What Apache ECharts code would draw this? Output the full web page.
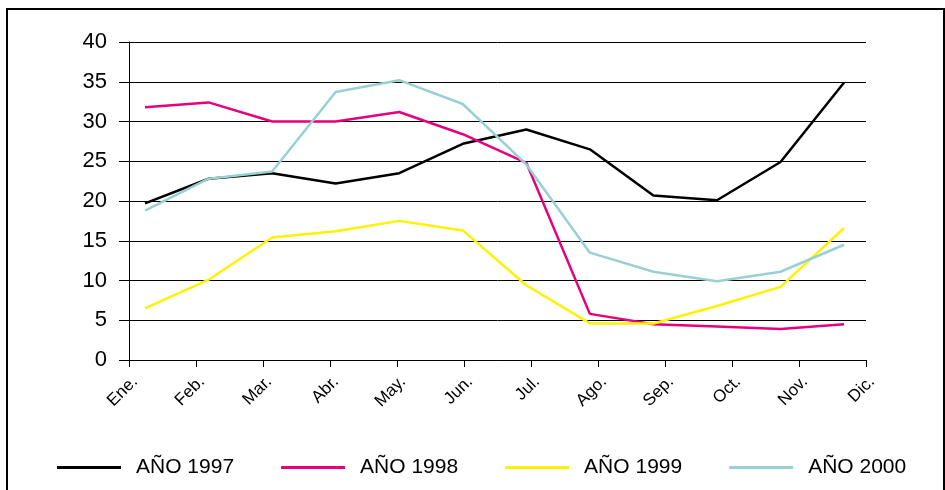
<!DOCTYPE html>
<html>
<head>
<meta charset="utf-8">
<script src="https://cdn.jsdelivr.net/npm/echarts@6/dist/echarts.min.js"></script>
<style>
  html, body { margin: 0; padding: 0; background: #fff; }
  #chart { width: 945px; height: 490px; }
  #frame {
    position: absolute; left: 6px; top: 8px; width: 935px; height: 500px;
    border: 2px solid #000; pointer-events: none;
  }
</style>
</head>
<body>
<div id="chart"></div>
<div id="frame"></div>
<script>
// meses
const months = ['Ene.', 'Feb.', 'Mar.', 'Abr.', 'May.', 'Jun.', 'Jul.', 'Ago.', 'Sep.', 'Oct.', 'Nov.', 'Dic.']
const names = ['AÑO 1997', 'AÑO 1998', 'AÑO 1999', 'AÑO 2000']
const y1997 = [19.7, 22.8, 23.5, 22.2, 23.5, 27.2, 29.0, 26.5, 20.7, 20.1, 24.9, 34.9]
const y1998 = [31.8, 32.4, 30.0, 30.0, 31.2, 28.4, 24.8, 5.8, 4.5, 4.2, 3.9, 4.5]
const y1999 = [6.5, 10.1, 15.4, 16.2, 17.5, 16.3, 9.4, 4.6, 4.6, 6.8, 9.2, 16.6]
const y2000 = [18.8, 22.8, 23.7, 33.7, 35.2, 32.2, 24.6, 13.5, 11.1, 9.9, 11.1, 14.5]
const colors = ['#000000', '#e6007e', '#fff200', '#99d0d3']

const font = 'Liberation Sans, Arial, sans-serif'
var myChart = echarts.init(document.getElementById('chart'))

const allData = [y1997, y1998, y1999, y2000]
var option = {
  animation: false,
  textStyle: { fontFamily: font },
  legend: {
    data: names,
    left: 52,
    top: 452,
    itemWidth: 64,
    itemHeight: 3,
    itemGap: 47,
    icon: 'rect',
    textStyle: { fontSize: 21, color: '#000', fontFamily: font, padding: [0, 0, 0, 10] }
  },
  grid: { left: 129, right: 79, top: 42, bottom: 130 },
  xAxis: [
    {
      type: 'category',
      data: months,
      boundaryGap: false,
      axisLine: { onZero: false, lineStyle: { color: '#000', width: 1 } },
      axisTick: { show: true, length: 7, lineStyle: { color: '#000' } },
      axisLabel: { rotate: 45, fontSize: 17, color: '#000', margin: 13, interval: 0, verticalAlign: 'top' },
      splitLine: { show: false }
    },
    {
      // eje oculto para colocar los puntos como en el original
      type: 'value',
      min: -0.252,
      max: 11.345,
      show: false
    }
  ],
  yAxis: {
    type: 'value',
    min: 0,
    max: 40,
    interval: 5,
    axisLine: { show: true, onZero: false, lineStyle: { color: '#000', width: 1 } },
    axisTick: { show: true, length: 10, lineStyle: { color: '#000' } },
    axisLabel: { fontSize: 22, color: '#000', margin: 22 },
    splitLine: { show: true, lineStyle: { color: '#000', width: 1 } }
  },
  series: names.map((n, k) => ({
    name: n,
    type: 'line',
    xAxisIndex: 1,
    data: allData[k].map((v, i) => [i, v]),
    symbol: 'none',
    color: colors[k],
    lineStyle: { width: 2.5, color: colors[k] }
  }))
}
myChart.setOption(option)
</script>
</body>
</html>
